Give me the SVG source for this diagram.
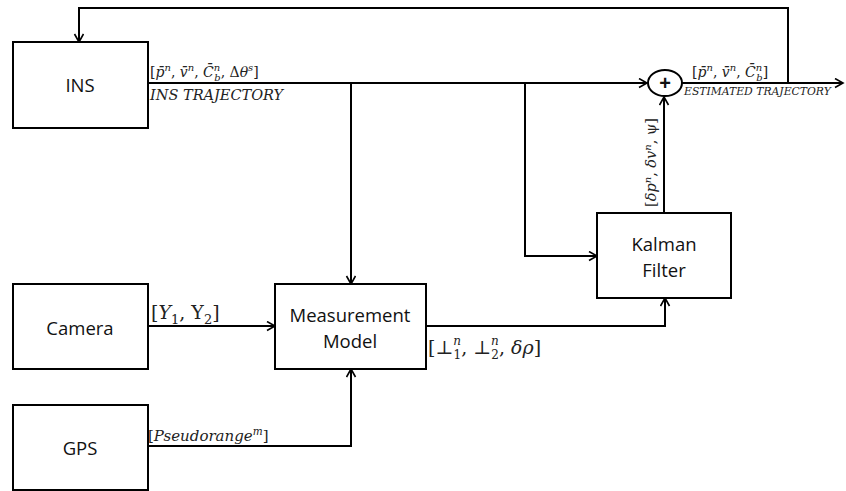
<svg xmlns="http://www.w3.org/2000/svg" width="846" height="491" viewBox="0 0 846 491">
<defs>
<marker id="arr" markerWidth="12" markerHeight="12" refX="9" refY="5" orient="auto" markerUnits="userSpaceOnUse">
<path d="M1,0.5 L9,5 L1,9.5" fill="none" stroke="#000" stroke-width="1.6"/>
</marker>
<style>
.box{fill:#fff;stroke:#000;stroke-width:2}
.lbl{font-family:"Open Sans","Liberation Sans",sans-serif;font-size:18.5px;fill:#111;text-anchor:middle}
.ln{fill:none;stroke:#000;stroke-width:2}
.m{font-family:"DejaVu Serif","Liberation Serif",serif;fill:#222}
.it{font-style:italic}
</style>
</defs>
<rect width="846" height="491" fill="#fff"/>
<g id="connectors">
<path class="ln" d="M148,83 H647" marker-end="url(#arr)"/>
<path class="ln" d="M682,83 H843" marker-end="url(#arr)"/>
<path class="ln" d="M788,83 V8 H79 V42" marker-end="url(#arr)"/>
<path class="ln" d="M351,83 V284" marker-end="url(#arr)"/>
<path class="ln" d="M525,83 V256 H597" marker-end="url(#arr)"/>
<path class="ln" d="M664,213 V97" marker-end="url(#arr)"/>
<path class="ln" d="M148,326 H275" marker-end="url(#arr)"/>
<path class="ln" d="M426,326 H665 V298" marker-end="url(#arr)"/>
<path class="ln" d="M148,446 H351 V369" marker-end="url(#arr)"/>
</g>
<g id="sum">
<ellipse cx="665" cy="83" rx="17" ry="13" fill="#fff" stroke="#000" stroke-width="2"/>
<text x="665" y="90" text-anchor="middle" font-family="Liberation Sans, sans-serif" font-size="20" font-weight="bold" fill="#111">+</text>
</g>
<g id="ins">
<rect class="box" x="13" y="42" width="135" height="86"/>
<text class="lbl" x="80" y="92">INS</text>
</g>
<g id="camera">
<rect class="box" x="13" y="284" width="135" height="85"/>
<text class="lbl" x="80" y="335">Camera</text>
</g>
<g id="gps">
<rect class="box" x="13" y="405" width="135" height="85"/>
<text class="lbl" x="80" y="455">GPS</text>
</g>
<g id="measurement">
<rect class="box" x="275" y="284" width="151" height="85"/>
<text class="lbl" x="350" y="322">Measurement</text>
<text class="lbl" x="350" y="348">Model</text>
</g>
<g id="kalman">
<rect class="box" x="597" y="213" width="134" height="85"/>
<text class="lbl" x="664" y="251">Kalman</text>
<text class="lbl" x="664" y="277">Filter</text>
</g>
<g id="labels">
<text class="m" x="150" y="77" font-size="14">[<tspan class="it">p̄</tspan><tspan class="it" font-size="10" dy="-6">n</tspan><tspan dy="6">, </tspan><tspan class="it">v̄</tspan><tspan class="it" font-size="10" dy="-6">n</tspan><tspan dy="6">, </tspan><tspan class="it">C̄</tspan><tspan class="it" font-size="10" dy="-6">n</tspan><tspan class="it" font-size="10" dx="-6" dy="10">b</tspan><tspan dy="-4">, Δ</tspan><tspan class="it">θ</tspan><tspan class="it" font-size="10" dy="-6">s</tspan><tspan dy="6">]</tspan></text>
<text class="m it" x="150" y="100" font-size="14.5" fill="#333">INS TRAJECTORY</text>
<text class="m" x="692" y="77" font-size="14">[<tspan class="it">p̄</tspan><tspan class="it" font-size="10" dy="-6">n</tspan><tspan dy="6">, </tspan><tspan class="it">v̄</tspan><tspan class="it" font-size="10" dy="-6">n</tspan><tspan dy="6">, </tspan><tspan class="it">C̄</tspan><tspan class="it" font-size="10" dy="-6">n</tspan><tspan class="it" font-size="10" dx="-6" dy="10">b</tspan><tspan dy="-4">]</tspan></text>
<text class="m it" x="684" y="95" font-size="10.8" fill="#333">ESTIMATED TRAJECTORY</text>
<text class="m" transform="translate(656,207) rotate(-90)" font-size="14.5">[<tspan class="it">δp</tspan><tspan class="it" font-size="10" dy="-5">n</tspan><tspan dy="5">, </tspan><tspan class="it">δv</tspan><tspan class="it" font-size="10" dy="-5">n</tspan><tspan dy="5">, ψ]</tspan></text>
<text class="m" x="151" y="319" font-size="19">[<tspan class="it">Y</tspan><tspan font-size="13" dy="5">1</tspan><tspan dy="-5">, Y</tspan><tspan font-size="13" dy="5">2</tspan><tspan dy="-5">]</tspan></text>
<text class="m" x="428" y="354" font-size="19">[⊥<tspan class="it" font-size="12" dy="-9.5">n</tspan><tspan font-size="12" dx="-7.5" dy="14.5">1</tspan><tspan dy="-5">, ⊥</tspan><tspan class="it" font-size="12" dy="-9.5">n</tspan><tspan font-size="12" dx="-7.5" dy="14.5">2</tspan><tspan dy="-5">, </tspan><tspan class="it">δρ</tspan>]</text>
<text class="m" x="148" y="441" font-size="15">[<tspan class="it">Pseudorange</tspan><tspan class="it" font-size="10.5" dy="-6">m</tspan><tspan dy="6">]</tspan></text>
</g>
</svg>
